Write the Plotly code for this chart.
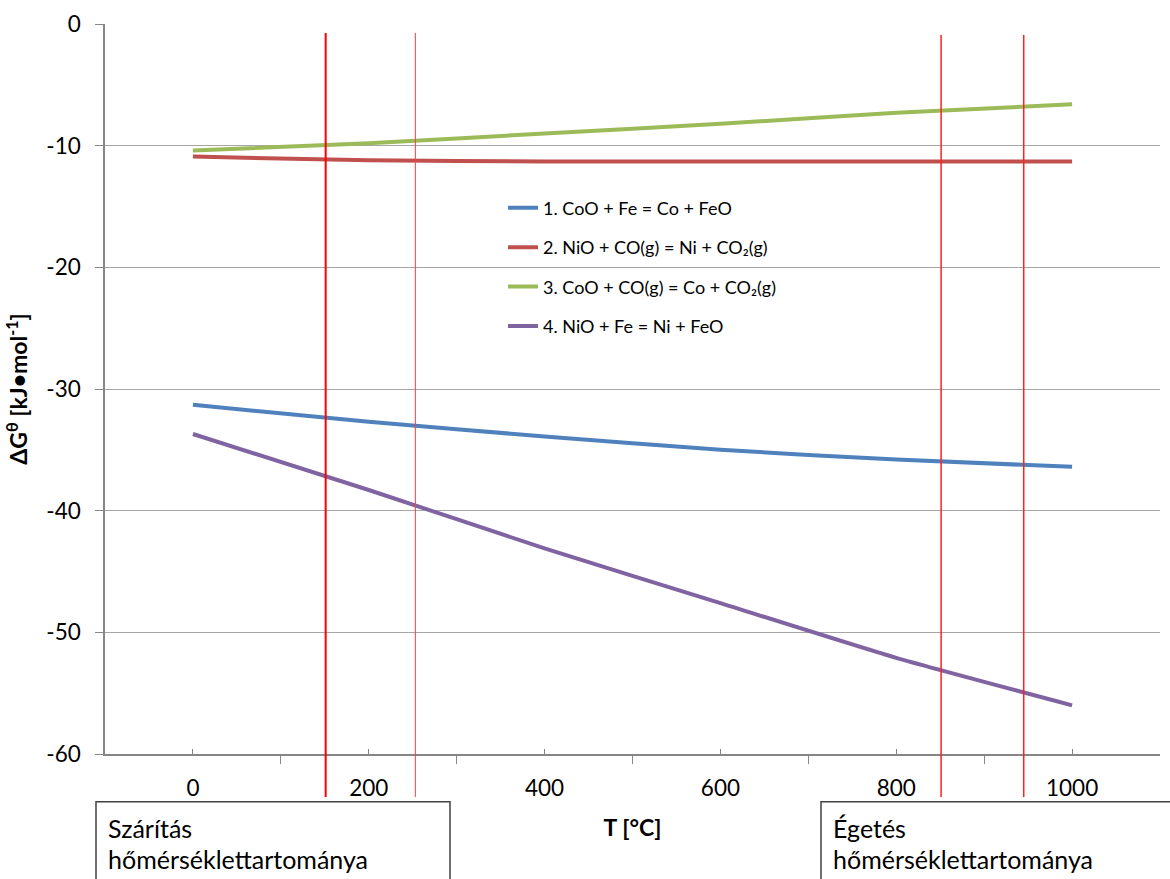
import plotly.graph_objects as go

# ---- data ----
temps = [0, 200, 400, 600, 800, 1000]
r1_coo_fe = [-31.3, -32.7, -33.9, -35.0, -35.8, -36.4]
r2_nio_co = [-10.9, -11.2, -11.3, -11.3, -11.3, -11.3]
r3_coo_co = [-10.4, -9.8, -9.0, -8.2, -7.3, -6.6]
r4_nio_fe = [-33.7, -38.3, -43.1, -47.6, -52.1, -56.0]
series_names = [
    "1. CoO + Fe = Co + FeO",
    "2. NiO + CO(g) = Ni + CO₂(g)",
    "3. CoO + CO(g) = Co + CO₂(g)",
    "4. NiO + Fe = Ni + FeO",
]
series_colors = ["#4F81BD", "#C0504D", "#9BBB59", "#8064A2"]
range_bounds = [151, 253, 851, 945]   # temperature range limits (°C)
x_ticks = [0, 200, 400, 600, 800, 1000]
x_minor = [-100, 100, 300, 500, 700, 900, 1100]
y_ticks = [0, -10, -20, -30, -40, -50, -60]
y_tick_labels = ["0", "-10", "-20", "-30", "-40", "-50", "-60"]

FONT = "Lato"
GRID = "#A6A6A6"
AXIS = "#868686"

fig = go.Figure()
for i, (name, vals) in enumerate(zip(series_names, [r1_coo_fe, r2_nio_co, r3_coo_co, r4_nio_fe])):
    fig.add_trace(go.Scatter(
        x=temps, y=vals, mode="lines", name=name,
        line=dict(color=series_colors[i], width=4, shape="spline", smoothing=0.5),
        legendgroup=f"g{i}",
    ))

# plot area in pixels: x 105..1160, y 22..754
W, H = 1170, 879
L, R, T, B = 105, 1160, 22, 754
def py(pix):
    return (B - pix) / (B - T)
def px(pix):
    return (pix - L) / (R - L)

widths = [2, 1, 1.5, 1.5]
colors = ["#FF0000", "#FF3B3B", "#FF2020", "#FF2020"]
tops = [31, 31, 33, 33]
for xv, w, c, tp in zip(range_bounds, widths, colors, tops):
    fig.add_shape(type="line", xref="x", yref="paper", x0=xv, x1=xv,
                  y0=py(797), y1=py(tp), line=dict(color=c, width=w), layer="above")

# bottom boxes
fig.add_shape(type="rect", xref="paper", yref="paper", x0=px(96), x1=px(450),
              y0=py(885), y1=py(802), line=dict(color="#404040", width=1.5),
              fillcolor="white", layer="above")
fig.add_shape(type="rect", xref="paper", yref="paper", x0=px(821), x1=px(1175),
              y0=py(885), y1=py(802), line=dict(color="#404040", width=1.5),
              fillcolor="white", layer="above")
for txt, xl, yc in [("Szárítás", 106, 828), ("hőmérséklettartománya", 106, 859),
                    ("Égetés", 831, 828), ("hőmérséklettartománya", 831, 859)]:
    fig.add_annotation(text=txt, xref="paper", yref="paper", x=px(xl), y=py(yc),
                       xanchor="left", yanchor="middle", showarrow=False,
                       font=dict(family=FONT, size=25, color="black"))

fig.update_layout(
    width=W, height=H,
    margin=dict(l=L, r=W - R, t=T, b=H - B),
    paper_bgcolor="white", plot_bgcolor="white",
    font=dict(family=FONT, size=22, color="black"),
    showlegend=True,
    legend=dict(x=px(503), y=py(188), xanchor="left", yanchor="top",
                bgcolor="rgba(0,0,0,0)", font=dict(family=FONT, size=18, color="black"),
                tracegroupgap=13, itemwidth=30),
    xaxis=dict(
        range=[-100, 1100], tickmode="array", tickvals=x_ticks,
        ticks="inside", ticklen=5, tickcolor=AXIS, tickwidth=1,
        showline=True, linecolor=AXIS, linewidth=1.5, showgrid=False, zeroline=False,
        tickfont=dict(family=FONT, size=22.5), ticklabelstandoff=13,
        minor=dict(tickmode="array", tickvals=x_minor, ticks="outside", ticklen=8,
                   tickcolor=AXIS, tickwidth=1, showgrid=False),
        title=dict(text="<b>T [°C]</b>", font=dict(family=FONT, size=23), standoff=20),
    ),
    yaxis=dict(
        range=[-60, 0], tickmode="array", tickvals=y_ticks, ticktext=y_tick_labels,
        ticks="outside", ticklen=8, tickcolor=AXIS, tickwidth=1,
        showline=True, linecolor=AXIS, linewidth=1.5,
        showgrid=True, gridcolor=GRID, gridwidth=1.2, zeroline=False,
        tickfont=dict(family=FONT, size=22.5), ticklabelstandoff=10,
        title=dict(text="<b>ΔG<sup>θ</sup> [kJ•mol<sup>-1</sup>]</b>",
                   font=dict(family=FONT, size=23), standoff=12),
    ),
)

fig.write_html("out.html")
